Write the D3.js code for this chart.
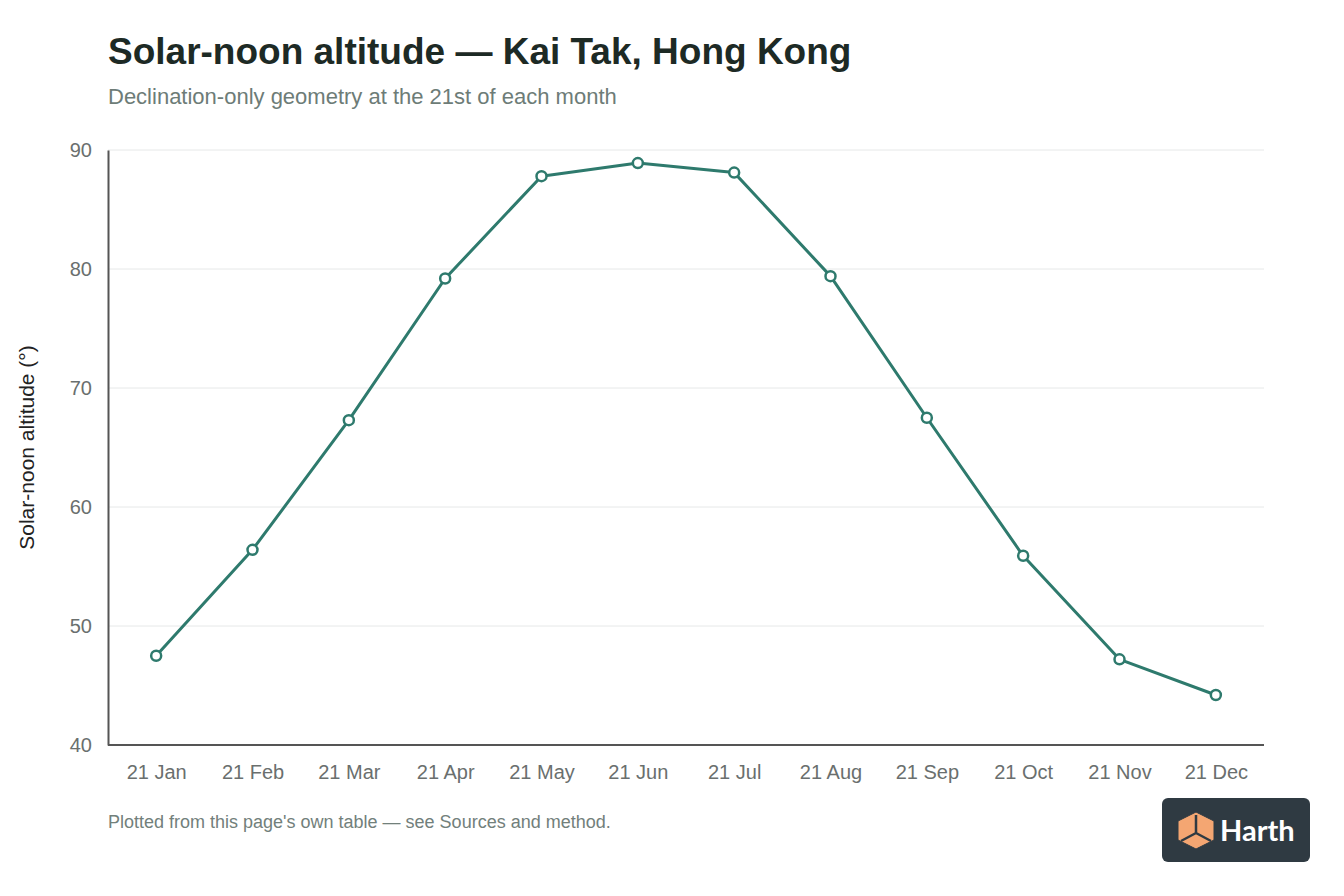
<!DOCTYPE html>
<html>
<head>
<meta charset="utf-8">
<title>Solar-noon altitude</title>
<script src="https://cdn.jsdelivr.net/npm/d3@7"></script>
<style>
  html, body { margin: 0; padding: 0; background: #fff; }
  svg { display: block; font-family: "Liberation Sans", Arial, Helvetica, sans-serif; }
</style>
</head>
<body>
<svg id="chart"></svg>
<script>
// chart data
var months = ["21 Jan", "21 Feb", "21 Mar", "21 Apr", "21 May", "21 Jun",
              "21 Jul", "21 Aug", "21 Sep", "21 Oct", "21 Nov", "21 Dec"];
var altitude = [47.5, 56.4, 67.3, 79.2, 87.8, 88.9, 88.1, 79.4, 67.5, 55.9, 47.2, 44.2];
var yTicks = [40, 50, 60, 70, 80, 90];

var W = 1344, H = 896;
var m = { left: 108, right: 80, top: 150, bottom: 151 };
var lineColor = "#2e7a6d";

var svg = d3.select("#chart").attr("width", W).attr("height", H);

// titles
svg.append("text").attr("x", 108).attr("y", 64)
  .attr("font-size", 37).attr("font-weight", "bold").attr("fill", "#1d2a25")
  .text("Solar-noon altitude \u2014 Kai Tak, Hong Kong");
svg.append("text").attr("x", 108).attr("y", 104)
  .attr("font-size", 22).attr("fill", "#6d7c77")
  .text("Declination-only geometry at the 21st of each month");

var x = d3.scalePoint().domain(months).range([m.left, W - m.right]).padding(0.5);
var y = d3.scaleLinear().domain([40, 90]).range([H - m.bottom, m.top]);

// gridlines
svg.append("g").selectAll("line").data(yTicks.slice(1)).enter().append("line")
  .attr("x1", m.left).attr("x2", W - m.right)
  .attr("y1", function(d) { return y(d); }).attr("y2", function(d) { return y(d); })
  .attr("stroke", "#e6e8e8").attr("stroke-width", 1);

// y axis
var yAxis = svg.append("g").attr("transform", "translate(" + m.left + ",0)")
  .call(d3.axisLeft(y).tickValues(yTicks).tickSize(0).tickPadding(16));
yAxis.select(".domain").attr("stroke", "#555").attr("stroke-width", 2);
yAxis.selectAll("text").attr("font-size", 20).attr("fill", "#6a6f6e")
  .attr("font-family", "Liberation Sans, Arial, sans-serif");

// x axis
var xAxis = svg.append("g").attr("transform", "translate(0," + (H - m.bottom) + ")")
  .call(d3.axisBottom(x).tickSize(0).tickPadding(20));
xAxis.select(".domain").attr("stroke", "#555").attr("stroke-width", 2)
  .attr("d", "M" + m.left + ",0H" + (W - m.right));
xAxis.selectAll("text").attr("font-size", 20).attr("fill", "#6a6f6e")
  .attr("font-family", "Liberation Sans, Arial, sans-serif");

// y axis label
svg.append("text")
  .attr("transform", "translate(34," + ((m.top + H - m.bottom) / 2) + ") rotate(-90)")
  .attr("text-anchor", "middle").attr("font-size", 21).attr("fill", "#222")
  .text("Solar-noon altitude (\u00b0)");

// line
var line = d3.line()
  .x(function(d, i) { return x(months[i]); })
  .y(function(d) { return y(d); });
svg.append("path").datum(altitude)
  .attr("d", line).attr("fill", "none")
  .attr("stroke", lineColor).attr("stroke-width", 3).attr("stroke-linejoin", "round");

svg.append("g").selectAll("circle").data(altitude).enter().append("circle")
  .attr("cx", function(d, i) { return x(months[i]); })
  .attr("cy", function(d) { return y(d); })
  .attr("r", 5).attr("fill", "#fff")
  .attr("stroke", lineColor).attr("stroke-width", 2.5);

// footer
svg.append("text").attr("x", 108).attr("y", 828)
  .attr("font-size", 18).attr("fill", "#72807b")
  .text("Plotted from this page's own table \u2014 see Sources and method.");

// logo badge
var logo = svg.append("g").attr("transform", "translate(1162,798)");
logo.append("rect").attr("width", 148).attr("height", 64).attr("rx", 6)
  .attr("fill", "#2f3a42");
var cube = logo.append("g").attr("transform", "translate(16,14)");
cube.append("path")
  .attr("d", "M18,0 L36,9 L36,28 L18,37 L0,28 L0,9 Z")
  .attr("fill", "#f4a672").attr("stroke", "#2f3a42").attr("stroke-width", 1);
cube.append("path")
  .attr("d", "M18,3 L18,21 M18,21 L3,29 M18,21 L33,29")
  .attr("fill", "none").attr("stroke", "#2f3a42").attr("stroke-width", 2.5);
logo.append("text").attr("x", 58).attr("y", 43)
  .attr("font-size", 29).attr("font-weight", "bold").attr("fill", "#fff")
  .attr("font-family", "Lato, 'Open Sans', sans-serif")
  .text("Harth");
</script>
</body>
</html>
